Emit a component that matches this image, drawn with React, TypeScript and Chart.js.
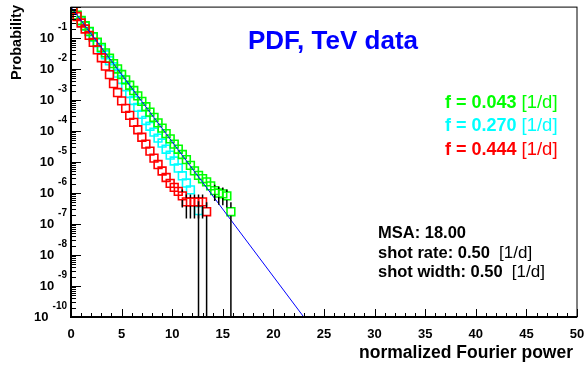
import React, { useEffect, useRef } from 'react';
import { Chart, registerables } from 'chart.js';

Chart.register(...registerables);

// ---- data ----
const binCenters = [
  0.2, 0.6, 1.0, 1.4, 1.8, 2.2, 2.6, 3.0, 3.4, 3.8,
  4.2, 4.6, 5.0, 5.4, 5.8, 6.2, 6.6, 7.0, 7.4, 7.8,
  8.2, 8.6, 9.0, 9.4, 9.8, 10.2, 10.6, 11.0, 11.4, 11.8,
  12.2, 12.6, 13.0, 13.4, 13.8, 14.2, 14.6, 15.0, 15.4, 15.8,
];

const greenValues = [
  0.82, 0.55, 0.37, 0.25, 0.165, 0.111, 0.074, 0.050, 0.0334, 0.0224,
  0.0150, 0.0101, 6.7e-3, 4.5e-3, 3.0e-3, 2.03e-3, 1.36e-3, 9.1e-4, 6.1e-4, 4.1e-4,
  2.75e-4, 1.84e-4, 1.24e-4, 8.3e-5, 5.6e-5, 3.8e-5, 2.6e-5, 1.75e-5, 1.2e-5, 7.8e-6,
  5.2e-6, 3.7e-6, 2.9e-6, 2.3e-6, 1.7e-6, 1.2e-6, 1.0e-6, 9.4e-7, 8.1e-7, 2.5e-7,
];

const cyanValues = [
  0.81, 0.54, 0.36, 0.245, 0.16, 0.106, 0.070, 0.045, 0.029, 0.0186,
  0.0119, 7.4e-3, 4.6e-3, 2.7e-3, 1.63e-3, 9.7e-4, 5.8e-4, 3.45e-4, 2.2e-4, 1.43e-4,
  9.2e-5, 5.9e-5, 4.1e-5, 2.6e-5, 1.67e-5, 1.08e-5, 6.4e-6, 3.6e-6, 2.1e-6, 1.27e-6,
  null, 2.7e-7,
];

const redValues = [
  0.80, 0.496, 0.307, 0.197, 0.122, 0.0728, 0.0418, 0.0232, 0.0124, 0.0066,
  0.0034, 0.00175, 9.4e-4, 5.4e-4, 3.2e-4, 1.91e-4, 1.10e-4, 6.3e-5, 3.8e-5, 2.25e-5,
  1.34e-5, 8.3e-6, 5.15e-6, 3.18e-6, 2.05e-6, 1.52e-6, 1.13e-6, 8.1e-7, 5.2e-7, 5.2e-7,
  5.2e-7, 5.2e-7, 5.2e-7, 2.5e-7,
];

// model curve (straight line on log axis)
const modelX = [0, 23];
const modelY = [1, 1e-10];

// error bars (x, value, low, high); low 0 = down to axis
const errX = [11.0, 11.4, 11.8, 12.2, 12.6, 13.0, 13.4, 12.6, 14.2, 14.6, 15.0, 15.4, 15.8];
const errY = [8.1e-7, 5.2e-7, 5.2e-7, 5.2e-7, 5.2e-7, 5.2e-7, 2.5e-7, 2.7e-7, 1.2e-6, 1.0e-6, 9.4e-7, 8.1e-7, 2.5e-7];
const errLow = [3.4e-7, 1.5e-7, 1.5e-7, 1.5e-7, 1.5e-7, 1.5e-7, 0, 0, 5.5e-7, 4.2e-7, 4.0e-7, 3.4e-7, 0];
const errHigh = [1.3e-6, 8.9e-7, 8.9e-7, 8.9e-7, 8.9e-7, 8.9e-7, 5.0e-7, 5.4e-7, 1.85e-6, 1.6e-6, 1.5e-6, 1.3e-6, 5.0e-7];

const xTickLabels = [0, 5, 10, 15, 20, 25, 30, 35, 40, 45, 50];
const yExponents = [-1, -2, -3, -4, -5, -6, -7, -8, -9, -10];

const titleText = 'PDF, TeV data';
const xTitle = 'normalized Fourier power';
const yTitle = 'Probability';
const legendValues = ['f = 0.043', 'f = 0.270', 'f = 0.444'];
const legendUnit = '[1/d]';
const infoLines = ['MSA: 18.00', 'shot rate: 0.50', 'shot width: 0.50'];
const infoUnits = ['', '[1/d]', '[1/d]'];

const GREEN = '#00ff00';
const CYAN = '#00ffff';
const RED = '#ff0000';
const BLUE = '#0000ff';
const FONT = "'Liberation Sans', Arial, Helvetica, sans-serif";

function toPoints(values: (number | null)[]) {
  const pts: { x: number; y: number }[] = [];
  values.forEach((v, i) => {
    if (v !== null) pts.push({ x: binCenters[i], y: v });
  });
  return pts;
}

const decorPlugin = {
  id: 'decor',
  afterDatasetsDraw(chart: any) {
    const ctx = chart.ctx;
    const xs = chart.scales.x;
    const ys = chart.scales.y;
    const { bottom, top } = chart.chartArea;
    ctx.save();
    ctx.strokeStyle = '#000';
    ctx.lineWidth = 1.5;
    const half = 4;
    for (let i = 0; i < errX.length; i++) {
      const px = xs.getPixelForValue(errX[i]);
      const py = ys.getPixelForValue(errY[i]);
      const pl = errLow[i] > 0 ? ys.getPixelForValue(errLow[i]) : bottom;
      const ph = ys.getPixelForValue(errHigh[i]);
      ctx.beginPath();
      if (pl > py + half) {
        ctx.moveTo(px, py + half);
        ctx.lineTo(px, Math.min(pl, bottom));
      }
      if (ph < py - half) {
        ctx.moveTo(px, py - half);
        ctx.lineTo(px, Math.max(ph, top));
      }
      ctx.stroke();
    }
    ctx.restore();
  },
  afterDraw(chart: any) {
    const ctx = chart.ctx;
    const xs = chart.scales.x;
    const ys = chart.scales.y;
    const { left, right, top, bottom } = chart.chartArea;
    ctx.save();
    // frame
    ctx.strokeStyle = '#000';
    ctx.lineWidth = 1;
    ctx.strokeRect(left, top, right - left, bottom - top);
    ctx.lineWidth = 2;
    ctx.beginPath();
    ctx.moveTo(left, top);
    ctx.lineTo(left, bottom);
    ctx.lineTo(right, bottom);
    ctx.stroke();

    // x ticks
    ctx.lineWidth = 1;
    ctx.beginPath();
    for (let v = 0; v <= 50; v += 1) {
      const px = Math.round(xs.getPixelForValue(v)) + 0.5;
      const len = v % 5 === 0 ? 8 : 4;
      ctx.moveTo(px, bottom);
      ctx.lineTo(px, bottom - len);
    }
    ctx.stroke();

    // y ticks (log)
    ctx.beginPath();
    for (let e = -10; e <= 0; e++) {
      for (let m = 1; m <= 9; m++) {
        const val = m * Math.pow(10, e);
        if (val > 1 || val < 1e-10) continue;
        const py = Math.round(ys.getPixelForValue(val)) + 0.5;
        const len = m === 1 ? 10 : 5;
        ctx.moveTo(left, py);
        ctx.lineTo(left + len, py);
      }
    }
    ctx.stroke();

    ctx.fillStyle = '#000';
    // x labels
    ctx.font = `bold 13px ${FONT}`;
    ctx.textAlign = 'center';
    ctx.textBaseline = 'middle';
    xTickLabels.forEach((v) => {
      ctx.fillText(String(v), xs.getPixelForValue(v), 334);
    });

    // y labels 10^e
    yExponents.forEach((e) => {
      const py = ys.getPixelForValue(Math.pow(10, e));
      const sup = String(e);
      ctx.font = `bold 10px ${FONT}`;
      const supW = ctx.measureText(sup).width;
      ctx.textAlign = 'right';
      ctx.fillText(sup, 67, py - 11);
      ctx.font = `bold 13px ${FONT}`;
      ctx.fillText('10', 67 - supW - 4, py);
    });

    // axis titles
    ctx.font = `bold 17.5px ${FONT}`;
    ctx.textAlign = 'right';
    ctx.fillText(xTitle, 573, 353);
    ctx.save();
    ctx.translate(17, 5);
    ctx.rotate(-Math.PI / 2);
    ctx.font = `bold 14.5px ${FONT}`;
    ctx.textAlign = 'right';
    ctx.fillText(yTitle, 0, 0);
    ctx.restore();

    // title
    ctx.font = `bold 26px ${FONT}`;
    ctx.textAlign = 'center';
    ctx.fillStyle = BLUE;
    ctx.fillText(titleText, 333, 42);

    // legend texts
    const legendColors = [GREEN, CYAN, RED];
    const legendY = [103, 126, 150];
    ctx.textAlign = 'left';
    legendValues.forEach((t, i) => {
      ctx.fillStyle = legendColors[i];
      ctx.font = `bold 18px ${FONT}`;
      const s = t + ' ';
      ctx.fillText(s, 445, legendY[i]);
      const w = ctx.measureText(s).width;
      ctx.font = `18.5px ${FONT}`;
      ctx.fillText(legendUnit, 445 + w, legendY[i]);
    });

    // info texts
    const infoY = [233, 253, 272];
    ctx.fillStyle = '#000';
    infoLines.forEach((t, i) => {
      ctx.font = `bold 16.5px ${FONT}`;
      ctx.fillText(t, 378, infoY[i]);
      if (infoUnits[i]) {
        const w = ctx.measureText(t + '  ').width;
        ctx.font = `17px ${FONT}`;
        ctx.fillText(infoUnits[i], 378 + w, infoY[i]);
      }
    });
    ctx.restore();
  },
};

export default function App() {
  const canvasRef = useRef<HTMLCanvasElement | null>(null);

  useEffect(() => {
    document.body.style.margin = '0';
    const canvas = canvasRef.current;
    if (!canvas) return;
    const markerCommon = {
      type: 'scatter' as const,
      showLine: false,
      pointStyle: 'rect',
      pointRadius: 5.5,
      pointBorderWidth: 1.6,
      pointBackgroundColor: 'rgba(0,0,0,0)',
      backgroundColor: 'rgba(0,0,0,0)',
    };
    const chart = new Chart(canvas, {
      type: 'scatter',
      data: {
        datasets: [
          {
            type: 'line',
            data: modelX.map((x, i) => ({ x, y: modelY[i] })),
            borderColor: BLUE,
            borderWidth: 1,
            pointRadius: 0,
            showLine: true,
            fill: false,
            order: -1,
          } as any,
          { ...markerCommon, data: toPoints(redValues), borderColor: RED, pointBorderColor: RED, order: 0 } as any,
          { ...markerCommon, data: toPoints(greenValues), borderColor: GREEN, pointBorderColor: GREEN, order: 1 } as any,
          { ...markerCommon, data: toPoints(cyanValues), borderColor: CYAN, pointBorderColor: CYAN, order: 2 } as any,
        ],
      },
      options: {
        responsive: false,
        animation: false,
        events: [],
        layout: { padding: { left: 71, right: 10, top: 5, bottom: 51 } },
        plugins: { legend: { display: false }, tooltip: { enabled: false }, title: { display: false } },
        scales: {
          x: { type: 'linear', min: 0, max: 50, display: false },
          y: { type: 'logarithmic', min: 1e-10, max: 1, display: false },
        },
      },
      plugins: [decorPlugin],
    });
    return () => chart.destroy();
  }, []);

  return (
    <div style={{ position: 'fixed', left: 0, top: 0, width: 587, height: 368, background: '#fff' }}>
      <canvas ref={canvasRef} width={587} height={368} style={{ width: 587, height: 368, display: 'block' }} />
    </div>
  );
}
